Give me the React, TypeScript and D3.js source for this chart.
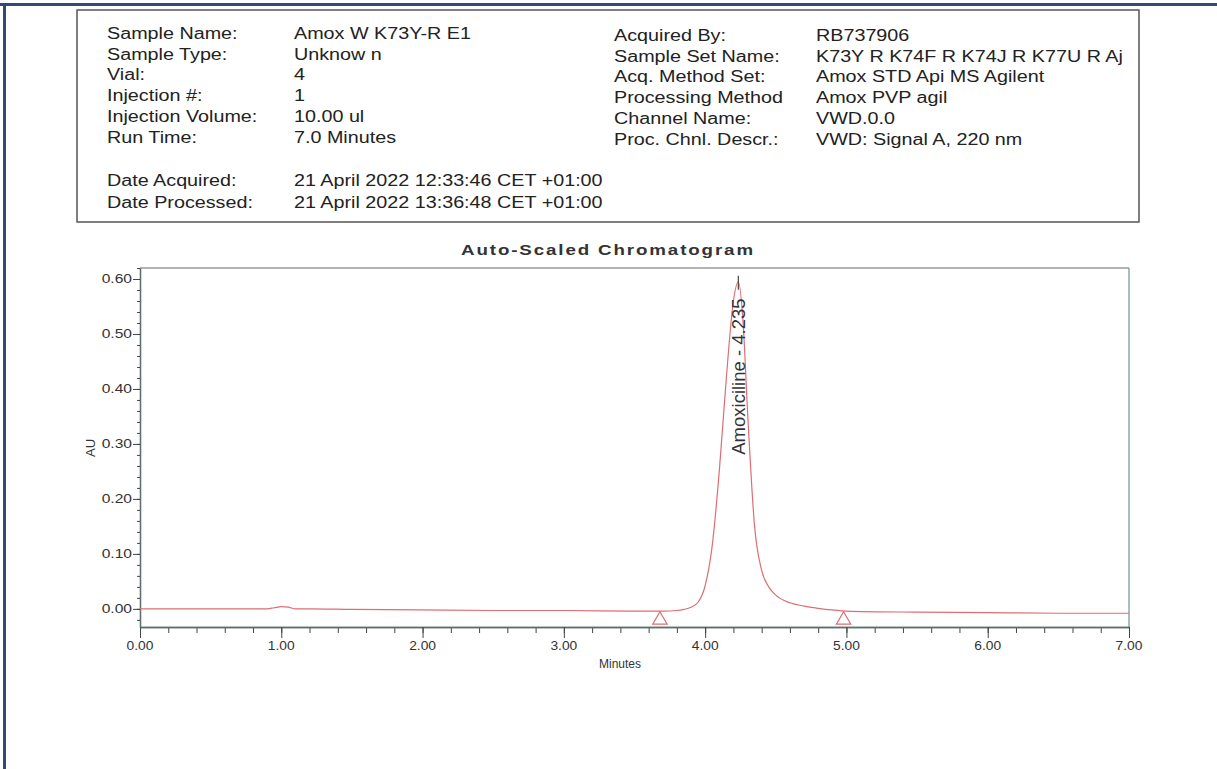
import React, { useEffect, useRef } from 'react';
import * as d3 from 'd3';

// header block of the report
const leftLabels = ['Sample Name:', 'Sample Type:', 'Vial:', 'Injection #:', 'Injection Volume:', 'Run Time:'];
const leftValues = ['Amox W K73Y-R E1', 'Unknow n', '4', '1', '10.00 ul', '7.0 Minutes'];
const rightLabels = ['Acquired By:', 'Sample Set Name:', 'Acq. Method Set:', 'Processing Method', 'Channel Name:', 'Proc. Chnl. Descr.:'];
const rightValues = ['RB737906', 'K73Y R K74F R K74J R K77U R Aj', 'Amox STD Api MS Agilent', 'Amox PVP agil', 'VWD.0.0', 'VWD: Signal A, 220 nm'];
const dateLabels = ['Date Acquired:', 'Date Processed:'];
const dateValues = ['21 April 2022 12:33:46 CET +01:00', '21 April 2022 13:36:48 CET +01:00'];

// chromatogram trace (minutes, AU)
const times = [0.0, 0.5, 0.9, 0.95, 1.0, 1.05, 1.1, 1.2, 1.5, 2.0, 2.5, 3.0, 3.5, 3.7, 3.8, 3.85, 3.9, 3.95, 4.0, 4.05, 4.1, 4.15, 4.2, 4.235, 4.27, 4.3, 4.35, 4.4, 4.45, 4.5, 4.6, 4.7, 4.8, 4.9, 5.0, 5.5, 6.0, 6.5, 7.0];
const absorbance = [0.0, 0.0, 0.0, 0.002, 0.004, 0.003, 0.0, 0.0, -0.001, -0.002, -0.003, -0.003, -0.004, -0.004, -0.003, -0.001, 0.003, 0.012, 0.042, 0.115, 0.25, 0.42, 0.56, 0.595, 0.515, 0.36, 0.15, 0.07, 0.04, 0.025, 0.011, 0.005, 0.001, -0.002, -0.004, -0.006, -0.007, -0.008, -0.008];

const peakName = 'Amoxiciline';
const peakTime = 4.235;
const peakHeight = 0.595;
const baselineStart = [3.68, -0.004];
const baselineEnd = [4.98, -0.004];

const xTicks = [0, 1, 2, 3, 4, 5, 6, 7];
const xMinor = d3.range(0, 7.001, 0.2);
const yTicks = [0, 0.1, 0.2, 0.3, 0.4, 0.5, 0.6];
const yMinor = d3.range(-0.02, 0.621, 0.02);

const FONT = '"Liberation Sans", Arial, sans-serif';
const SX = 1.25; // the print is stretched sideways

const text = (svg, x, y, s, size, opts = {}) => {
  const t = svg
    .append('text')
    .attr('transform', 'translate(' + [x, y] + ')scale(' + (opts.sx || SX) + ',1)' + (opts.rot ? 'rotate(' + opts.rot + ')' : ''))
    .attr('font-family', FONT)
    .attr('font-size', size)
    .attr('fill', opts.fill || '#222')
    .attr('text-anchor', opts.anchor || 'start')
    .text(s);
  if (opts.bold) t.attr('font-weight', 'bold');
  if (opts.ls) t.attr('letter-spacing', opts.ls);
  return t;
};

const line = (x1, y1, x2, y2, c, w, svg) => {
  svg.append('line').attr('x1', x1).attr('y1', y1).attr('x2', x2).attr('y2', y2).attr('stroke', c).attr('stroke-width', w);
};

const App = () => {
  const ref = useRef(null);

  useEffect(() => {
    const width = 1217,
      height = 769;
    d3.select(ref.current).selectAll('*').remove();
    const svg = d3
      .select(ref.current)
      .append('svg')
      .attr('width', width)
      .attr('height', height)
      .style('position', 'absolute')
      .style('left', 0)
      .style('top', 0)
      .style('background', '#fff');

    // page frame
    line(0, 4.5, width, 4.5, '#2f4b73', 3, svg);
    line(4.5, 3, 4.5, height, '#2f4b73', 3, svg);

    // header box
    svg.append('rect').attr('x', 77).attr('y', 10).attr('width', 1062).attr('height', 212).attr('fill', 'none').attr('stroke', '#555').attr('stroke-width', 1.5);

    const rowY = (i) => 39 + i * 20.7;
    leftLabels.forEach((s, i) => text(svg, 107, rowY(i), s, 15.8));
    leftValues.forEach((s, i) => text(svg, 294, rowY(i), s, 15.8));
    rightLabels.forEach((s, i) => text(svg, 614, rowY(i) + 2, s, 15.8));
    rightValues.forEach((s, i) => text(svg, 816, rowY(i) + 2, s, 15.8));
    dateLabels.forEach((s, i) => text(svg, 107, 186 + i * 22, s, 15.8));
    dateValues.forEach((s, i) => text(svg, 294, 186 + i * 22, s, 15.8));

    // chart
    const x = d3.scaleLinear().domain([0, 7]).range([140, 1129]);
    const y = d3.scaleLinear().domain([-0.033, 0.62]).range([627, 268]);

    text(svg, 608, 255, 'Auto-Scaled Chromatogram', 15, { anchor: 'middle', bold: true, ls: 1.5, fill: '#333' });

    // frame top / right
    line(140, 268, 1129, 268, '#9a9a9a', 1.3, svg);
    line(1129, 268, 1129, 627, '#7a9c9c', 1.3, svg);

    const axisStyle = (g) => {
      g.selectAll('path').attr('stroke', '#5f6f70').attr('stroke-width', 1.3);
      g.selectAll('line').attr('stroke', '#444').attr('stroke-width', 1);
      g.selectAll('text').remove();
    };

    svg.append('g').attr('transform', 'translate(0,627)').call(d3.axisBottom(x).tickValues(xMinor).tickSize(6).tickSizeOuter(0)).call(axisStyle);
    svg.append('g').attr('transform', 'translate(0,627)').call(d3.axisBottom(x).tickValues(xTicks).tickSize(11).tickSizeOuter(0)).call(axisStyle);
    svg.append('g').attr('transform', 'translate(140,0)').call(d3.axisLeft(y).tickValues(yMinor).tickSize(3).tickSizeOuter(0)).call(axisStyle);
    svg.append('g').attr('transform', 'translate(140,0)').call(d3.axisLeft(y).tickValues(yTicks).tickSize(7).tickSizeOuter(0)).call(axisStyle);

    xTicks.forEach((t) => text(svg, x(t), 650, d3.format('.2f')(t), 12, { anchor: 'middle', fill: '#333', sx: 1.15 }));
    yTicks.forEach((t) => text(svg, 132, y(t) + 4.5, d3.format('.2f')(t), 12, { anchor: 'end', fill: '#333', sx: 1.3 }));
    text(svg, 620, 668, 'Minutes', 12, { anchor: 'middle', fill: '#333', sx: 1.0 });
    text(svg, 95, 448, 'AU', 13, { anchor: 'middle', fill: '#333', sx: 1.0, rot: -90 });

    // trace
    const pts = times.map((t, i) => [t, absorbance[i]]);
    svg
      .append('path')
      .datum(pts)
      .attr('fill', 'none')
      .attr('stroke', '#dd6f73')
      .attr('stroke-width', 1.2)
      .attr(
        'd',
        d3
          .line()
          .x((d) => x(d[0]))
          .y((d) => y(d[1]))
          .curve(d3.curveMonotoneX)
      );

    // integration markers
    [baselineStart, baselineEnd].forEach((b) => {
      svg
        .append('path')
        .attr('d', d3.symbol().type(d3.symbolTriangle).size(90)())
        .attr('transform', 'translate(' + [x(b[0]), y(b[1]) + 9] + ')')
        .attr('fill', 'none')
        .attr('stroke', '#dd6f73')
        .attr('stroke-width', 1.2);
    });

    // peak apex marker and label
    line(x(peakTime), y(peakHeight) - 6, x(peakTime), y(peakHeight) + 8, '#444', 1.2, svg);
    text(svg, x(peakTime) + 7, y(peakHeight) + 173, peakName + ' - ' + d3.format('.3f')(peakTime), 18.5, { fill: '#333', sx: 1.0, rot: -90 });
  }, []);

  return <div id="chromatogram" ref={ref} />;
};

export default App;
